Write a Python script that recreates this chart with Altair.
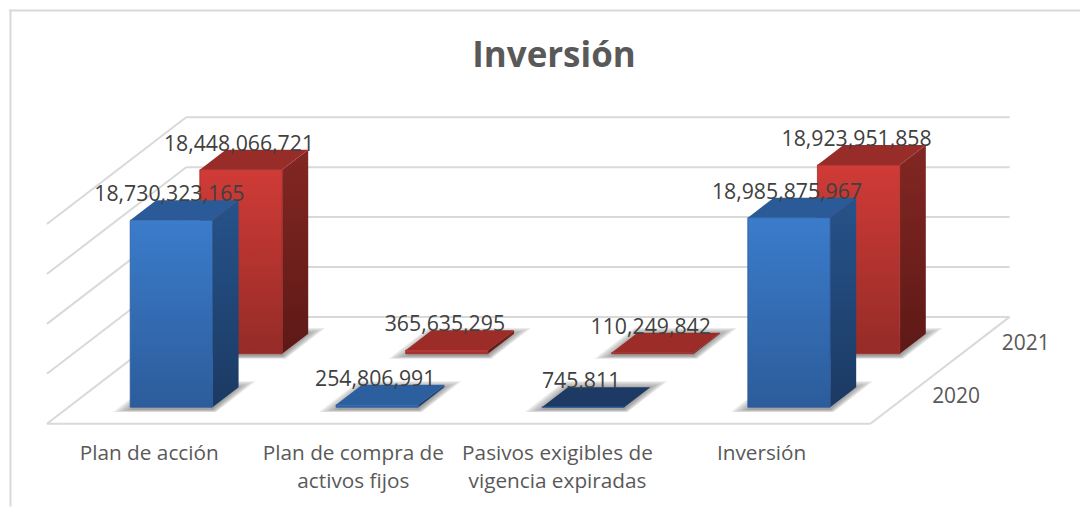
import altair as alt
import pandas as pd

categories = ["Plan de acción", "Plan de compra de\nactivos fijos",
              "Pasivos exigibles de\nvigencia expiradas", "Inversión"]
values_2020 = [18730323165, 254806991, 745811, 18985875967]
values_2021 = [18448066721, 365635295, 110249842, 18923951858]
years = ["2020", "2021"]
grid_levels = [0, 5, 10, 15, 20]
shadow_spread = [0.0, 3.5, 7.0, 10.5, 14.0, 17.0]

# Oblique projection of (category, depth, value) into the plot's two scales
PX_X = 206.25          # px per category band
PX_Y = 10.0            # px per 1e9
DX = 139.5 / PX_X      # screen shift (in x units) for the entire depth
DY = 107.0 / PX_Y      # screen shift (in y units) for the entire depth
BAR_W = 0.40           # bar width as share of band
BAR_D = 0.187          # bar depth as share of the depth axis
DEPTH_C = [0.248, 0.748]
XDOM = [(8 - 46) / PX_X, (1081 - 46) / PX_X]
YDOM = [(423 - 506) / PX_Y, (423 - 8) / PX_Y]

xs = alt.Scale(domain=XDOM, zero=False, nice=False)
ys = alt.Scale(domain=YDOM, zero=False, nice=False)
X = alt.X("x:Q", scale=xs, axis=None)
Y = alt.Y("y:Q", scale=ys, axis=None)
X2 = alt.X2("x2:Q")
Y2 = alt.Y2("y2:Q")


def grad(c1, c2):
    return alt.Gradient(gradient="linear", x1=0, y1=0, x2=0, y2=1,
                        stops=[alt.GradientStop(color=c1, offset=0),
                               alt.GradientStop(color=c2, offset=1)])


def faces(vals, s):
    front_d = DEPTH_C[s] - BAR_D / 2
    back_d = DEPTH_C[s] + BAR_D / 2
    front, side, top, shadow, labels = [], [], [], [], []
    dark_top = ["#2C5F9E", "#9C2C28"][s]
    for i, v in enumerate(vals):
        h = v / 1e9
        xl = i + 0.5 - BAR_W / 2 + front_d * DX
        xr = xl + BAR_W
        yb = front_d * DY
        ddx = BAR_D * DX
        ddy = BAR_D * DY
        front.append(dict(x=xl, x2=xr, y=yb, y2=yb + h))
        side.append(dict(bar=i, x=xr, y=yb, y2=yb + h))
        side.append(dict(bar=i, x=xr + ddx, y=yb + ddy, y2=yb + ddy + h))
        face = "#1C3A63" if (v < 1e6 and s == 0) else dark_top
        if s == 0 and v > 1e9:
            face = "#2A5B98"
        if s == 1 and v > 1e9:
            face = "#982C28"
        top.append(dict(bar=i, c=face, x=xl, x2=xr, y=yb + h))
        top.append(dict(bar=i, c=face, x=xl + ddx, x2=xr + ddx, y=yb + ddy + h))
        for k, e in enumerate(shadow_spread):
            ex = e / PX_X
            ey = e * 0.35 / PX_Y
            shadow.append(dict(bar=f"{i}-{k}", x=xl - ex, x2=xr + ex * 0.2, y=yb - 0.25 - ey * 0.4))
            shadow.append(dict(bar=f"{i}-{k}", x=xl + ddx - ex * 0.2, x2=xr + ddx + ex,
                               y=yb + ddy + ey))
        labels.append(dict(x=(xl + xr) / 2, y=yb + h, value=v))
    return (pd.DataFrame(front), pd.DataFrame(side), pd.DataFrame(top),
            pd.DataFrame(shadow), pd.DataFrame(labels))


def bar_layers(vals, s, front_c, side_c, edge_c):
    front, side, top, shadow, _ = faces(vals, s)
    return [
        alt.Chart(shadow).mark_area(orient="horizontal", color="#4a4a4a", opacity=0.11).encode(
            x=X, x2=X2, y=Y, detail="bar:N"),
        alt.Chart(side).mark_area(color=side_c).encode(x=X, y=Y, y2=Y2, detail="bar:N"),
        alt.Chart(top).mark_area(orient="horizontal").encode(
            x=X, x2=X2, y=Y, detail="bar:N", color=alt.Color("c:N", scale=None, legend=None)),
        alt.Chart(front).mark_rect(color=front_c, stroke=edge_c, strokeWidth=1,
                                   strokeOpacity=0.8).encode(x=X, x2=X2, y=Y, y2=Y2),
    ]


n = len(categories)
grid = []
for lv in grid_levels:
    grid.append(dict(x=0 + DX, x2=n + DX, y=lv + DY, y2=lv + DY))   # back wall
    grid.append(dict(x=0, x2=DX, y=lv, y2=lv + DY))                 # left wall
grid.append(dict(x=0, x2=n, y=0, y2=0))                             # floor, front
grid.append(dict(x=n, x2=n + DX, y=0, y2=DY))                       # floor, right
grid_chart = alt.Chart(pd.DataFrame(grid)).mark_rule(color="#D9D9D9", strokeWidth=2).encode(
    x=X, x2=X2, y=Y, y2=Y2)

frame = pd.DataFrame([
    dict(x=XDOM[0] + 1.5 / PX_X, x2=XDOM[0] + 1.5 / PX_X, y=YDOM[0], y2=YDOM[1]),
    dict(x=XDOM[0], x2=XDOM[1], y=YDOM[1] - 0.1, y2=YDOM[1] - 0.1),
])
frame_chart = alt.Chart(frame).mark_rule(color="#D9D9D9", strokeWidth=2).encode(
    x=X, x2=X2, y=Y, y2=Y2)

red = bar_layers(values_2021, 1, grad("#D03B37", "#952B27"), grad("#832723", "#5D1916"), "#9E2D29")
blue = bar_layers(values_2020, 0, grad("#3B7CCB", "#2C5C9B"), grad("#26538A", "#1B3A63"), "#2B5B9A")

lab = pd.concat([faces(values_2021, 1)[4], faces(values_2020, 0)[4]])
label_chart = alt.Chart(lab).mark_text(
    font="Open Sans", fontSize=21.3, color="#404040", dx=-2, dy=-25, baseline="middle").encode(
    x=X, y=Y, text=alt.Text("value:Q", format=",.0f"))

cat_df = pd.DataFrame({"x": [0.497 + 0.9915 * i for i in range(n)],
                       "y": [-2.0] * n, "t": categories})
cat_chart = alt.Chart(cat_df).mark_text(
    font="Open Sans", fontSize=20.8, color="#595959", lineBreak="\n", lineHeight=28,
    baseline="top").encode(x=X, y=Y, text="t:N")

year_df = pd.DataFrame({"x": [n + d * DX for d in (0.25, 0.75)],
                        "y": [d * DY for d in (0.25, 0.75)], "t": years})
year_chart = alt.Chart(year_df).mark_text(
    font="Open Sans", fontSize=21, color="#595959", dx=51, baseline="middle").encode(
    x=X, y=Y, text="t:N")

chart = alt.layer(frame_chart, grid_chart, *red, *blue, label_chart, cat_chart, year_chart).properties(
    width=1073, height=498, padding=0,
    title=alt.TitleParams("Inversión", font="Open Sans", fontSize=35, fontWeight="bold",
                          color="#595959", anchor="middle", offset=-66, dx=9.5),
).configure_view(stroke=None)

chart.save("out.html", embed_options={"renderer": "svg", "actions": False})
